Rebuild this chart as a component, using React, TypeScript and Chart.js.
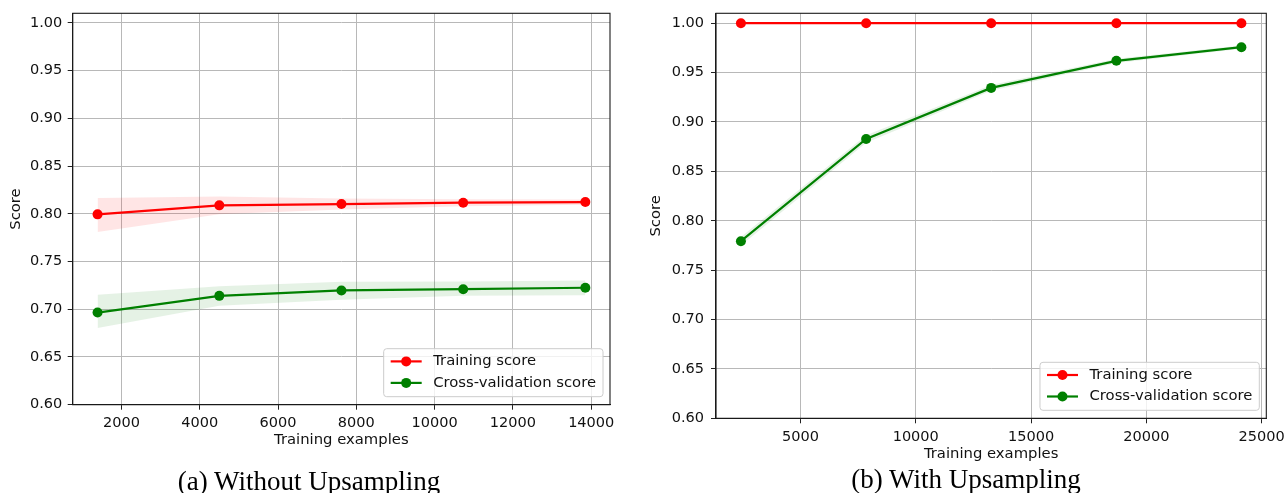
import React, { useEffect, useRef } from 'react';
import { Chart, registerables } from 'chart.js';

Chart.register(...registerables);

// ---------- data ----------
const leftTrainSizes = [1390, 4500, 7620, 10730, 13850];
const leftTrainMean = [0.7994, 0.8088, 0.8102, 0.8116, 0.8123];
const leftTrainUpper = [0.8165, 0.818, 0.816, 0.8152, 0.815];
const leftTrainLower = [0.781, 0.7995, 0.8045, 0.808, 0.8095];
const leftCvMean = [0.6965, 0.714, 0.7197, 0.721, 0.7225];
const leftCvUpper = [0.7152, 0.724, 0.7288, 0.729, 0.73];
const leftCvLower = [0.6804, 0.7036, 0.71, 0.714, 0.7147];

const rightTrainSizes = [2420, 7850, 13270, 18700, 24120];
const rightTrainMean = [1.0, 1.0, 1.0, 1.0, 1.0];
const rightTrainUpper = [1.0, 1.0, 1.0, 1.0, 1.0];
const rightTrainLower = [0.9995, 0.9996, 0.9997, 0.9997, 0.9998];
const rightCvMean = [0.7793, 0.8828, 0.9345, 0.9619, 0.9757];
const rightCvUpper = [0.7835, 0.8865, 0.9375, 0.964, 0.9775];
const rightCvLower = [0.775, 0.879, 0.9315, 0.9598, 0.974];

const leftXTicks = [2000, 4000, 6000, 8000, 10000, 12000, 14000];
const rightXTicks = [5000, 10000, 15000, 20000, 25000];
const yTicks = [0.6, 0.65, 0.7, 0.75, 0.8, 0.85, 0.9, 0.95, 1.0];
const legendLabels = ['Training score', 'Cross-validation score'];
const captions = ['(a) Without Upsampling', '(b) With Upsampling'];
const xTitle = 'Training examples';
const yTitle = 'Score';

const RED = '#ff0000';
const GREEN = '#008000';
const FONT = '"DejaVu Sans", Verdana, sans-serif';
const TICK_SIZE = 14.5;
const LABEL_SIZE = 14.8;
const MARKER_R = 5;
const LINE_W = 2.2;

type Geo = {
  width: number;
  height: number;
  yAxisWidth: number;
  xAxisHeight: number;
  padTop: number;
  padRight: number;
  padBottom: number;
  yTickPad: number;
  xMin: number;
  xMax: number;
};

type PanelProps = {
  sizes: number[];
  trainMean: number[];
  trainUpper: number[];
  trainLower: number[];
  cvMean: number[];
  cvUpper: number[];
  cvLower: number[];
  xTicks: number[];
  geo: Geo;
};

const pts = (xs: number[], ys: number[]) => xs.map((x, i) => ({ x, y: ys[i] }));

const framePlugin = {
  id: 'frame',
  afterDatasetsDraw(chart: any) {
    const { ctx, chartArea } = chart;
    ctx.save();
    ctx.strokeStyle = '#1a1a1a';
    ctx.lineWidth = 1.1;
    ctx.strokeRect(chartArea.left, chartArea.top, chartArea.right - chartArea.left, chartArea.bottom - chartArea.top);
    ctx.restore();
  },
};

const legendPlugin = {
  id: 'innerLegend',
  afterDraw(chart: any) {
    const { ctx, chartArea } = chart;
    ctx.save();
    ctx.font = LABEL_SIZE + 'px ' + FONT;
    const textW = Math.max(...legendLabels.map((l) => ctx.measureText(l).width));
    const w = 7 + 31 + 11.5 + textW + 7;
    const h = 48;
    const x = chartArea.right - 7 - w;
    const y = chartArea.bottom - 8 - h;
    const r = 3;
    ctx.beginPath();
    ctx.moveTo(x + r, y);
    ctx.lineTo(x + w - r, y);
    ctx.quadraticCurveTo(x + w, y, x + w, y + r);
    ctx.lineTo(x + w, y + h - r);
    ctx.quadraticCurveTo(x + w, y + h, x + w - r, y + h);
    ctx.lineTo(x + r, y + h);
    ctx.quadraticCurveTo(x, y + h, x, y + h - r);
    ctx.lineTo(x, y + r);
    ctx.quadraticCurveTo(x, y, x + r, y);
    ctx.closePath();
    ctx.fillStyle = 'rgba(255,255,255,0.8)';
    ctx.fill();
    ctx.strokeStyle = '#cccccc';
    ctx.lineWidth = 1;
    ctx.stroke();
    const colors = [RED, GREEN];
    legendLabels.forEach((label, i) => {
      const ry = y + 12.7 + i * 21.5;
      const hx = x + 7;
      ctx.strokeStyle = colors[i];
      ctx.lineWidth = LINE_W;
      ctx.beginPath();
      ctx.moveTo(hx, ry);
      ctx.lineTo(hx + 31, ry);
      ctx.stroke();
      ctx.fillStyle = colors[i];
      ctx.beginPath();
      ctx.arc(hx + 15.5, ry, MARKER_R, 0, Math.PI * 2);
      ctx.fill();
      ctx.fillStyle = '#111';
      ctx.textBaseline = 'middle';
      ctx.textAlign = 'left';
      ctx.fillText(label, hx + 31 + 11.5, ry);
    });
    ctx.restore();
  },
};

function Panel(props: PanelProps) {
  const ref = useRef<HTMLCanvasElement>(null);
  useEffect(() => {
    const g = props.geo;
    const lineDs = (label: string, ys: number[], color: string) => ({
      label,
      data: pts(props.sizes, ys),
      borderColor: color,
      backgroundColor: color,
      borderWidth: LINE_W,
      pointRadius: MARKER_R,
      pointBorderWidth: 0,
      pointBackgroundColor: color,
      fill: false,
      tension: 0,
    });
    const bandDs = (ys: number[], fill: any, color: string) => ({
      label: '',
      data: pts(props.sizes, ys),
      borderWidth: 0,
      borderColor: 'rgba(0,0,0,0)',
      backgroundColor: color,
      pointRadius: 0,
      fill,
      tension: 0,
    });
    const chart = new Chart(ref.current as HTMLCanvasElement, {
      type: 'line',
      data: {
        datasets: [
          lineDs(legendLabels[1], props.cvMean, GREEN),
          lineDs(legendLabels[0], props.trainMean, RED),
          bandDs(props.cvUpper, '+1', 'rgba(0,128,0,0.1)'),
          bandDs(props.cvLower, false, 'rgba(0,128,0,0.1)'),
          bandDs(props.trainUpper, '+1', 'rgba(255,0,0,0.1)'),
          bandDs(props.trainLower, false, 'rgba(255,0,0,0.1)'),
        ] as any,
      },
      options: {
        animation: false,
        responsive: false,
        events: [],
        layout: { padding: { top: g.padTop, right: g.padRight, bottom: g.padBottom, left: 0 } },
        plugins: { legend: { display: false }, tooltip: { enabled: false }, title: { display: false } },
        scales: {
          x: {
            type: 'linear',
            position: 'bottom',
            min: g.xMin,
            max: g.xMax,
            afterBuildTicks: (s: any) => {
              s.ticks = props.xTicks.map((v) => ({ value: v }));
            },
            afterFit: (s: any) => {
              s.height = g.xAxisHeight;
              s.paddingLeft = 0;
              s.paddingRight = 0;
            },
            ticks: {
              font: { family: FONT, size: TICK_SIZE },
              color: '#111',
              padding: 5,
              maxRotation: 0,
              autoSkip: false,
              callback: (v: any) => String(v),
            },
            grid: { color: '#b8b8b8', lineWidth: 1, tickColor: '#222', tickLength: 5 },
            border: { color: '#1a1a1a', width: 1.1 },
            title: {
              display: true,
              text: xTitle,
              font: { family: FONT, size: LABEL_SIZE },
              color: '#111',
              padding: { top: 0, bottom: 0 },
            },
          },
          y: {
            type: 'linear',
            min: 0.6,
            max: 1.01,
            afterBuildTicks: (s: any) => {
              s.ticks = yTicks.map((v) => ({ value: v }));
            },
            afterFit: (s: any) => {
              s.width = g.yAxisWidth;
              s.paddingTop = 0;
              s.paddingBottom = 0;
            },
            ticks: {
              font: { family: FONT, size: TICK_SIZE },
              color: '#111',
              padding: g.yTickPad,
              autoSkip: false,
              callback: (v: any) => Number(v).toFixed(2),
            },
            grid: { color: '#b8b8b8', lineWidth: 1, tickColor: '#222', tickLength: 5 },
            border: { color: '#1a1a1a', width: 1.1 },
            title: {
              display: true,
              text: yTitle,
              font: { family: FONT, size: LABEL_SIZE },
              color: '#111',
              padding: { top: 7.5, bottom: 0 },
            },
          },
        },
      } as any,
      plugins: [framePlugin, legendPlugin],
    });
    return () => chart.destroy();
  }, []);
  return (
    <canvas
      ref={ref}
      width={props.geo.width}
      height={props.geo.height}
      style={{ width: props.geo.width, height: props.geo.height, display: 'block' }}
    />
  );
}

const leftGeo: Geo = {
  width: 640,
  height: 493,
  yAxisWidth: 72.7,
  xAxisHeight: 44.4,
  padTop: 13.3,
  padRight: 30,
  padBottom: 43.9,
  yTickPad: 5.5,
  xMin: 755,
  xMax: 14480,
};

const rightGeo: Geo = {
  width: 647,
  height: 493,
  yAxisWidth: 76,
  xAxisHeight: 45.1,
  padTop: 13.3,
  padRight: 20.7,
  padBottom: 29.6,
  yTickPad: 7,
  xMin: 1340,
  xMax: 25200,
};

const captionStyle = (center: number, top: number): React.CSSProperties => ({
  position: 'absolute',
  left: center - 250,
  width: 500,
  top,
  textAlign: 'center',
  fontFamily: '"Liberation Serif", "Times New Roman", serif',
  fontSize: 27,
  lineHeight: '30px',
  color: '#000',
  whiteSpace: 'nowrap',
});

export default function App() {
  return (
    <div
      style={{
        position: 'absolute',
        left: 0,
        top: 0,
        width: 1287,
        height: 493,
        overflow: 'hidden',
        background: '#fff',
      }}
    >
      <div style={{ position: 'absolute', left: 0, top: 0 }}>
        <Panel
          sizes={leftTrainSizes}
          trainMean={leftTrainMean}
          trainUpper={leftTrainUpper}
          trainLower={leftTrainLower}
          cvMean={leftCvMean}
          cvUpper={leftCvUpper}
          cvLower={leftCvLower}
          xTicks={leftXTicks}
          geo={leftGeo}
        />
      </div>
      <div style={{ position: 'absolute', left: 640, top: 0 }}>
        <Panel
          sizes={rightTrainSizes}
          trainMean={rightTrainMean}
          trainUpper={rightTrainUpper}
          trainLower={rightTrainLower}
          cvMean={rightCvMean}
          cvUpper={rightCvUpper}
          cvLower={rightCvLower}
          xTicks={rightXTicks}
          geo={rightGeo}
        />
      </div>
      <div style={captionStyle(309, 465.5)}>{captions[0]}</div>
      <div style={captionStyle(966, 464)}>{captions[1]}</div>
    </div>
  );
}
